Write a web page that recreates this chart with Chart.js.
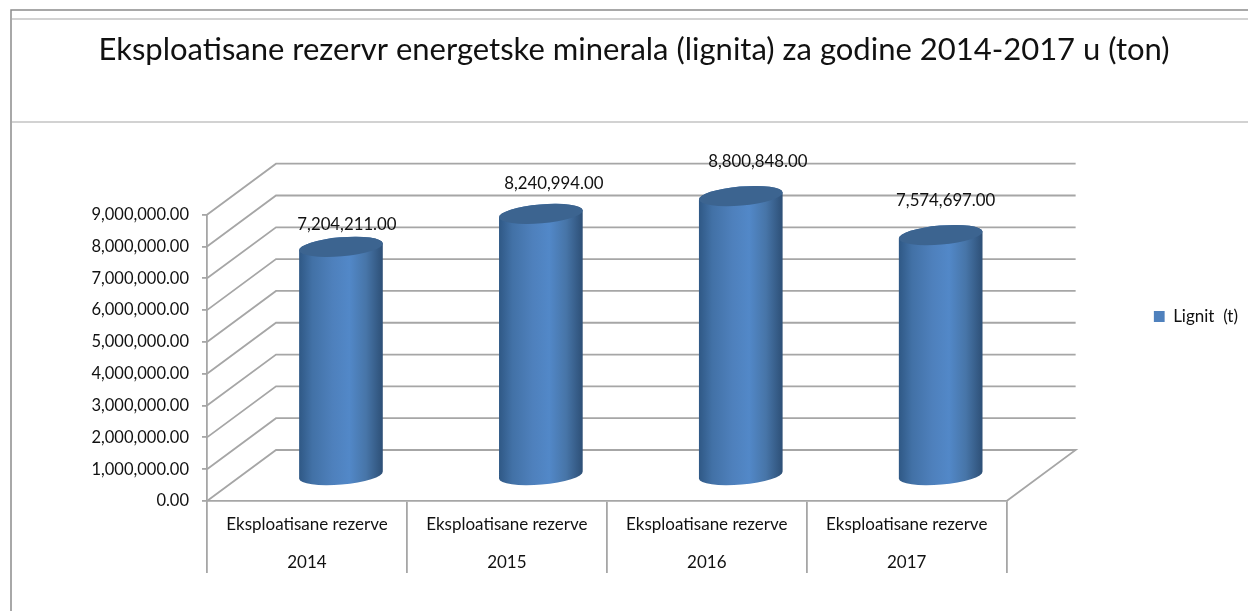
<!DOCTYPE html>
<html>
<head>
<meta charset="utf-8">
<title>Eksploatisane rezerve</title>
<script src="https://cdn.jsdelivr.net/npm/chart.js@4"></script>
<style>
  html, body { margin: 0; padding: 0; background: #ffffff; overflow: hidden; }
  canvas { display: block; }
</style>
</head>
<body>
<canvas id="graphique" width="1248" height="611"></canvas>
<script>
// ==========================================================
// DONNEES
// ==========================================================
const titre = "Eksploatisane rezervr energetske minerala (lignita) za godine 2014-2017 u (ton)";
const categories = [
  ["Eksploatisane rezerve", "2014"],
  ["Eksploatisane rezerve", "2015"],
  ["Eksploatisane rezerve", "2016"],
  ["Eksploatisane rezerve", "2017"]
];
const nomSerie = "Lignit  (t)";
const valeurs = [7204211, 8240994, 8800848, 7574697];
const valeurMax = 9000000;
const pasAxe = 1000000;

// ==========================================================
// STYLES
// ==========================================================
const policeTexte = "Lato, 'Noto Sans', sans-serif";
const couleurTexte = "#111111";
const couleurGrille = "#a6a6a6";
const epaisseurGrille = 1.8;
const couleurSerie = "#4f81bd";

// Profondeur du faux 3D : fond du graphique et milieu (ou sont les cylindres)
const fondX = 69, fondY = -51;
const milieuX = 34, milieuY = -25;

// Les etiquettes ont ete deplacees a la main dans l'original
const decalageEtiquettes = [[6, -22], [13, -30], [17, -34], [5, -34]];

function formatNombre(v) {
  return v.toLocaleString("en-US", { minimumFractionDigits: 2, maximumFractionDigits: 2 });
}

// ==========================================================
// PLUGIN : cadre, parois, cylindres, etiquettes
// ==========================================================
const plugin3D = {
  id: "plugin3D",

  // La legende de l'original est plus haute que le milieu de sa colonne
  afterLayout(chart) {
    chart.legend.top += 16;
    chart.legend.bottom += 16;
  },

  beforeDraw(chart) {
    const ctx = chart.ctx;
    ctx.save();
    ctx.lineWidth = 1.5;
    ctx.strokeStyle = "#8c8c8c";
    ctx.beginPath();
    ctx.moveTo(11, 611);
    ctx.lineTo(11, 10);
    ctx.lineTo(chart.width, 10);
    ctx.stroke();
    ctx.strokeStyle = "#c4c4c4";
    ctx.beginPath();
    ctx.moveTo(12, 19);
    ctx.lineTo(chart.width, 19);
    ctx.moveTo(12, 122);
    ctx.lineTo(chart.width, 122);
    ctx.stroke();
    ctx.restore();
  },

  beforeDatasetsDraw(chart) {
    const ctx = chart.ctx;
    const y = chart.scales.y;
    const aire = chart.chartArea;
    ctx.save();
    ctx.lineWidth = epaisseurGrille;
    ctx.strokeStyle = couleurGrille;
    y.ticks.forEach((t) => {
      const py = y.getPixelForValue(t.value);
      ctx.beginPath();
      ctx.moveTo(aire.left, py);
      ctx.lineTo(aire.left + fondX, py + fondY);
      ctx.lineTo(aire.right + fondX, py + fondY);
      // le plancher se referme sur le coin avant droit
      if (t.value === 0) ctx.lineTo(aire.right, py);
      ctx.stroke();
    });
    ctx.restore();
  },

  // On remplace les barres par des cylindres, a partir des elements calcules par Chart.js
  beforeDatasetDraw(chart, args) {
    const ctx = chart.ctx;
    args.meta.data.forEach((barre) => {
      const cx = barre.x + milieuX;
      const rx = barre.width / 2;
      const ry = 9.5;
      const incl = -0.085;
      const haut = barre.y + milieuY;
      const bas = barre.base + milieuY;

      const degrade = ctx.createLinearGradient(cx - rx, 0, cx + rx, 0);
      degrade.addColorStop(0, "#2f5885");
      degrade.addColorStop(0.16, "#4271a6");
      degrade.addColorStop(0.4, "#4e80bc");
      degrade.addColorStop(0.6, "#5288c8");
      degrade.addColorStop(0.8, "#4775a8");
      degrade.addColorStop(1, "#2d4f76");

      ctx.save();
      ctx.fillStyle = degrade;
      ctx.beginPath();
      ctx.ellipse(cx, bas, rx, ry, incl, 0, Math.PI);
      ctx.ellipse(cx, haut, rx, ry, incl, Math.PI, Math.PI * 2);
      ctx.closePath();
      ctx.fill();

      ctx.fillStyle = "#3c6490";
      ctx.beginPath();
      ctx.ellipse(cx, haut, rx, ry, incl, 0, Math.PI * 2);
      ctx.fill();
      ctx.restore();
    });
    return false;
  },

  afterDatasetsDraw(chart) {
    const ctx = chart.ctx;
    const barres = chart.getDatasetMeta(0).data;
    ctx.save();
    ctx.font = "16.8px " + policeTexte;
    ctx.fillStyle = couleurTexte;
    ctx.textAlign = "center";
    ctx.textBaseline = "middle";
    barres.forEach((barre, i) => {
      const dx = decalageEtiquettes[i][0];
      const dy = decalageEtiquettes[i][1];
      ctx.fillText(formatNombre(valeurs[i]), barre.x + milieuX + dx, barre.y + milieuY + dy);
    });
    ctx.restore();
  }
};

// ==========================================================
// GRAPHIQUE
// ==========================================================
new Chart(document.getElementById("graphique"), {
  type: "bar",
  data: {
    labels: categories,
    datasets: [{
      label: nomSerie,
      data: valeurs,
      backgroundColor: couleurSerie,
      categoryPercentage: 1,
      barPercentage: 0.42
    }]
  },
  plugins: [plugin3D],
  options: {
    responsive: false,
    animation: false,
    layout: { padding: { left: 20, right: 0, top: 0, bottom: 10 } },
    plugins: {
      tooltip: { enabled: false },
      title: {
        display: true,
        text: titre,
        color: couleurTexte,
        font: { family: policeTexte, size: 31, weight: "normal", lineHeight: 1.2 },
        padding: { top: 31.5, bottom: 146 }
      },
      legend: {
        position: "right",
        labels: {
          boxWidth: 11,
          boxHeight: 11,
          padding: 0,
          color: couleurTexte,
          font: { family: policeTexte, size: 17 }
        }
      }
    },
    scales: {
      x: {
        afterFit(s) { s.height = 100; },
        border: { color: couleurGrille, width: epaisseurGrille },
        grid: { drawOnChartArea: false, color: couleurGrille, lineWidth: epaisseurGrille, tickLength: 72 },
        ticks: {
          color: couleurTexte,
          autoSkip: false,
          maxRotation: 0,
          padding: -67,
          font: { family: policeTexte, size: 17, lineHeight: 2.2 }
        }
      },
      y: {
        min: 0,
        max: valeurMax,
        afterFit(s) { s.width = 187; },
        border: { color: couleurGrille, width: epaisseurGrille },
        grid: { drawOnChartArea: false, color: couleurGrille, lineWidth: epaisseurGrille, tickLength: 5 },
        ticks: {
          stepSize: pasAxe,
          padding: 13,
          color: couleurTexte,
          font: { family: policeTexte, size: 16.5 },
          callback: (v) => formatNombre(v)
        }
      },
      // echelle vide : reserve la place entre le graphique et la legende
      marge: {
        type: "linear",
        position: "right",
        display: true,
        afterFit(s) { s.width = 147; },
        border: { display: false },
        grid: { display: false },
        ticks: { display: false }
      }
    }
  }
});
</script>
</body>
</html>
